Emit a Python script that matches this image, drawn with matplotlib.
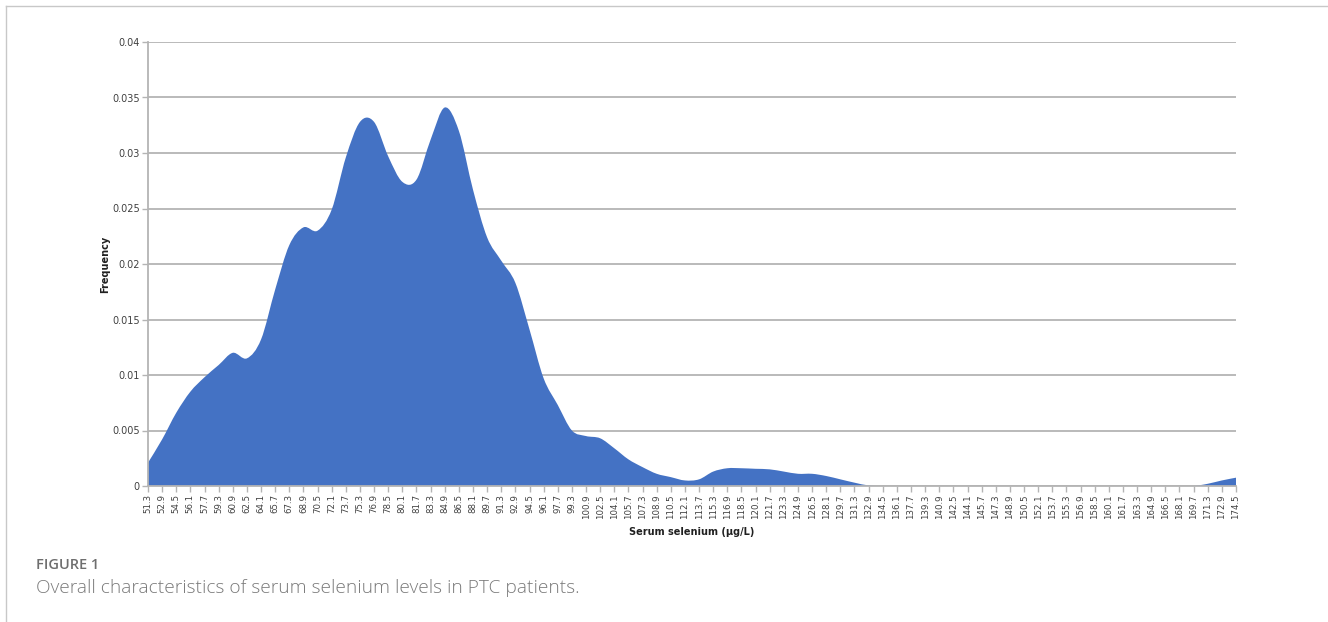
import matplotlib
matplotlib.use("Agg")
import matplotlib.pyplot as plt
from matplotlib.path import Path
from matplotlib.patches import PathPatch
from matplotlib.lines import Line2D

# serum selenium bins (ug/L), step 1.6
labels = ["51.3", "52.9", "54.5", "56.1", "57.7", "59.3", "60.9", "62.5", "64.1", "65.7",
          "67.3", "68.9", "70.5", "72.1", "73.7", "75.3", "76.9", "78.5", "80.1", "81.7",
          "83.3", "84.9", "86.5", "88.1", "89.7", "91.3", "92.9", "94.5", "96.1", "97.7",
          "99.3", "100.9", "102.5", "104.1", "105.7", "107.3", "108.9", "110.5", "112.1", "113.7",
          "115.3", "116.9", "118.5", "120.1", "121.7", "123.3", "124.9", "126.5", "128.1", "129.7",
          "131.3", "132.9", "134.5", "136.1", "137.7", "139.3", "140.9", "142.5", "144.1", "145.7",
          "147.3", "148.9", "150.5", "152.1", "153.7", "155.3", "156.9", "158.5", "160.1", "161.7",
          "163.3", "164.9", "166.5", "168.1", "169.7", "171.3", "172.9", "174.5"]

freq = [0.0021, 0.0042, 0.0066, 0.0085, 0.0098, 0.0109, 0.0120, 0.0115, 0.0132, 0.0177,
        0.0217, 0.0233, 0.0230, 0.0249, 0.0296, 0.0328, 0.0328, 0.0297, 0.0274, 0.0276,
        0.0312, 0.0341, 0.0320, 0.0267, 0.0224, 0.0203, 0.0183, 0.0141, 0.0097, 0.0073,
        0.0050, 0.0045, 0.0043, 0.0034, 0.0024, 0.0017, 0.0011, 0.0008, 0.0005, 0.0006,
        0.0013, 0.0016, 0.0016, 0.00155, 0.0015, 0.0013, 0.0011, 0.0011, 0.0009, 0.0006,
        0.0003, 0.00005, 0, 0, 0, 0, 0, 0, 0, 0,
        0, 0, 0, 0, 0, 0, 0, 0, 0, 0,
        0, 0, 0, 0, 0, 0.0002, 0.0005, 0.00075]

yticks = [0, 0.005, 0.01, 0.015, 0.02, 0.025, 0.03, 0.035, 0.04]
ytick_labels = ["0", "0.005", "0.01", "0.015", "0.02", "0.025", "0.03", "0.035", "0.04"]

fig = plt.figure(figsize=(13.28, 6.22), dpi=100)
ax = fig.add_axes([148 / 1328, 136 / 622, 1088 / 1328, 444 / 622])

# smoothed area (Excel-like Catmull-Rom -> cubic Bezier)
n = len(freq)
pts = list(zip(range(n), freq))
verts = [(0, 0), pts[0]]
codes = [Path.MOVETO, Path.LINETO]
for i in range(n - 1):
    p0 = pts[i - 1] if i > 0 else pts[i]
    p1, p2 = pts[i], pts[i + 1]
    p3 = pts[i + 2] if i + 2 < n else pts[i + 1]
    c1 = (p1[0] + (p2[0] - p0[0]) / 6, p1[1] + (p2[1] - p0[1]) / 6)
    c2 = (p2[0] - (p3[0] - p1[0]) / 6, p2[1] - (p3[1] - p1[1]) / 6)
    verts += [c1, c2, p2]
    codes += [Path.CURVE4] * 3
verts += [(n - 1, 0), (0, 0)]
codes += [Path.LINETO, Path.CLOSEPOLY]
ax.add_patch(PathPatch(Path(verts, codes), facecolor="#4472C4", edgecolor="none", zorder=2))

ax.set_xlim(0, n - 1)
ax.set_ylim(0, 0.04)
ax.set_yticks(yticks)
ax.set_yticklabels(ytick_labels, fontsize=7, color="#404040")
ax.set_xticks(range(n))
ax.set_xticklabels(labels, rotation=90, fontsize=6.2, color="#404040")
ax.yaxis.grid(True, color="#b4b4b4", linewidth=1.3, zorder=1)
ax.set_axisbelow(True)
for s in ["top", "right"]:
    ax.spines[s].set_visible(False)
for s in ["left", "bottom"]:
    ax.spines[s].set_color("#b4b4b4")
    ax.spines[s].set_linewidth(1.3)
ax.tick_params(axis="both", colors="#b4b4b4", labelcolor="#404040", length=4, width=1, pad=2)

ax.set_ylabel("Frequency", fontsize=7, fontweight="bold", color="#202020", labelpad=1)
ax.set_xlabel("Serum selenium (\u03bcg/L)", fontsize=7, fontweight="bold", color="#202020", labelpad=6)

# page frame and caption
fig.add_artist(Line2D([6 / 1328, 1327 / 1328], [1 - 6 / 622, 1 - 6 / 622], color="#c8c8c8", lw=1))
fig.add_artist(Line2D([6 / 1328, 6 / 1328], [0, 1 - 6 / 622], color="#c8c8c8", lw=1))
fig.text(36 / 1328, 1 - 565 / 622, "FIGURE 1", fontsize=10.5, fontweight="semibold",
         family="Open Sans", color="#6e6e6e", va="center")
fig.text(36 / 1328, 1 - 588 / 622, "Overall characteristics of serum selenium levels in PTC patients.",
         fontsize=13.8, fontweight="light", family="Open Sans", color="#7a7a7a", va="center")

fig.savefig("out.png", dpi=100)
